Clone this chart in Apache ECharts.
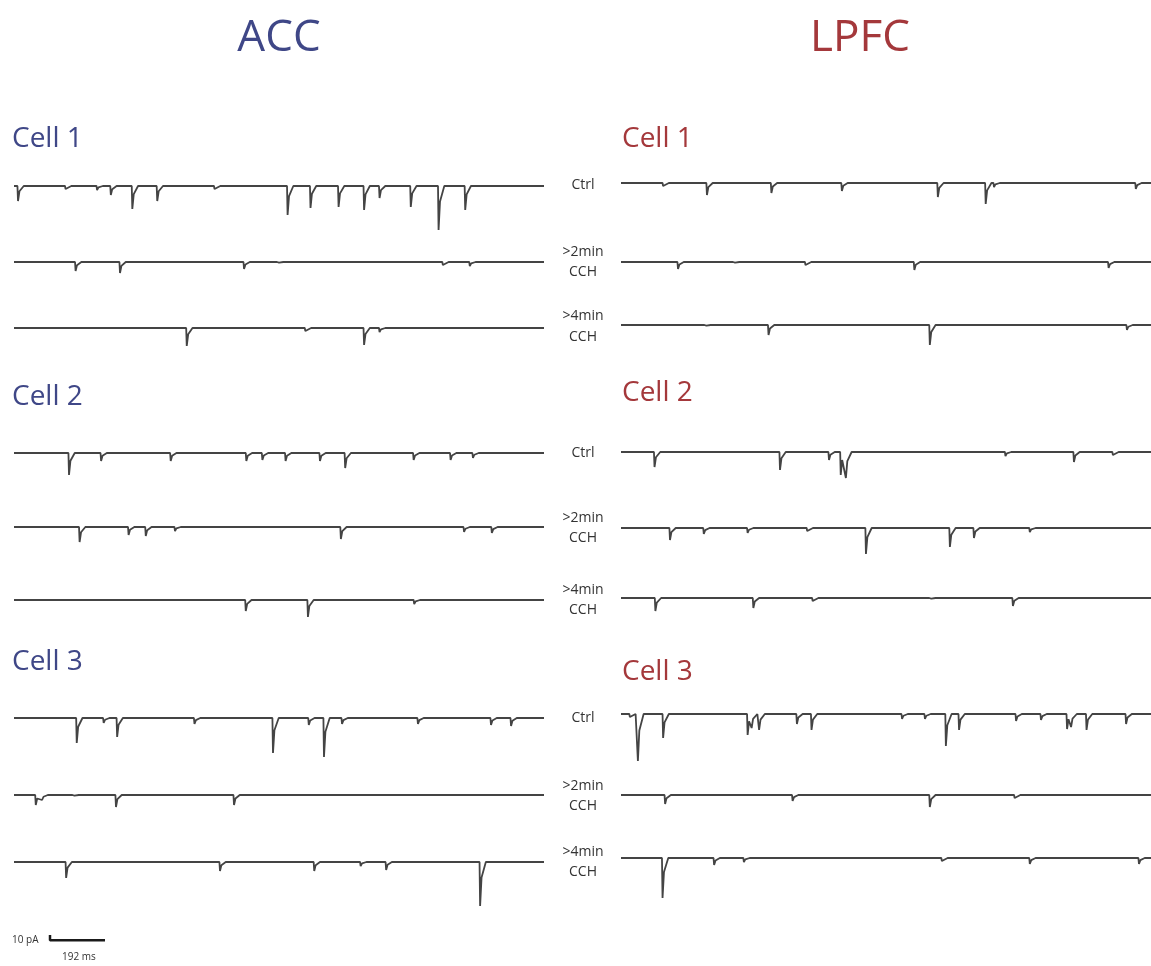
<!DOCTYPE html>
<html>
<head>
<meta charset="utf-8">
<script src="https://cdn.jsdelivr.net/npm/echarts@6/dist/echarts.min.js"></script>
<style>
html, body { margin: 0; padding: 0; background: #fff; }
#main { width: 1151px; height: 966px; }
</style>
</head>
<body>
<div id="main"></div>
<script>
// synaptic events: [time (ms), amplitude (pA, inward = down)]
var acc1Ctrl = [[14, 15], [180, 3], [290, 4], [338, 9], [413, 23], [500, 15], [700, 3], [955, 29], [1035, 22], [1133, 21], [1222, 24], [1276, 12], [1385, 21], [1482, 44], [1575, 24]];
var acc1Cch2 = [[215, 9], [370, 11], [803, 7], [920, 2], [1497, 3], [1591, 4]];
var acc1Cch4 = [[603, 18], [1017, 3], [1222, 17], [1276, 4]];
var acc2Ctrl = [[192, 22], [304, 8], [547, 8], [811, 8], [867, 7], [948, 8], [1068, 8], [1156, 15], [1395, 7], [1524, 7], [1602, 5]];
var acc2Cch2 = [[229, 15], [400, 8], [460, 9], [562, 4], [1141, 12], [1571, 5], [1668, 6]];
var acc2Cch4 = [[809, 11], [1026, 17], [1397, 4]];
var acc3Ctrl = [[219, 25], [313, 5], [360, 19], [630, 6], [904, 35], [1029, 7], [1082, 39], [1145, 6], [1410, 6], [1665, 7], [1735, 8]];
var acc3Cch2 = [[76, 10], [98, 5], [206, 2], [356, 12], [768, 10]];
var acc3Cch4 = [[182, 16], [719, 9], [1048, 9], [1210, 4], [1299, 8], [1627, 44]];

var lpfc1Ctrl = [[147, 3], [300, 12], [525, 10], [771, 8], [1106, 14], [1273, 21], [1302, 4], [1797, 6]];
var lpfc1Cch2 = [[199, 7], [393, 2], [644, 3], [1024, 8], [1702, 6]];
var lpfc1Cch4 = [[293, 2], [515, 10], [1078, 20], [1766, 5]];
var lpfc2Ctrl = [[117, 15], [555, 18], [726, 8], [767, 23], [785, 26], [1342, 4], [1581, 10], [1717, 3]];
var lpfc2Cch2 = [[171, 12], [289, 6], [442, 5], [650, 3], [855, 26], [1148, 19], [1232, 10], [1427, 4]];
var lpfc2Cch4 = [[120, 13], [462, 10], [669, 3], [1078, 2], [1368, 8]];
var lpfc3Ctrl = [[31, 3], [59, 47], [147, 24], [442, 21], [456, 14], [482, 16], [614, 10], [665, 16], [981, 5], [1061, 5], [1134, 32], [1180, 16], [1379, 7], [1466, 6], [1557, 15], [1571, 13], [1625, 16], [1763, 10]];
var lpfc3Cch2 = [[154, 9], [599, 6], [1078, 12], [1374, 3]];
var lpfc3Cch4 = [[145, 40], [325, 7], [429, 4], [1120, 3], [1427, 6], [1808, 6]];

var traceMs = 1850;
var scaleBar = [[0, 10], [0, 0], [192, 0]]; // 10 pA / 192 ms

var accTraces = [acc1Ctrl, acc1Cch2, acc1Cch4, acc2Ctrl, acc2Cch2, acc2Cch4, acc3Ctrl, acc3Cch2, acc3Cch4];
var lpfcTraces = [lpfc1Ctrl, lpfc1Cch2, lpfc1Cch4, lpfc2Ctrl, lpfc2Cch2, lpfc2Cch4, lpfc3Ctrl, lpfc3Cch2, lpfc3Cch4];

// layout (page px)
var accLeft = 14, lpfcLeft = 621, traceW = 530;
var accY = [186, 262, 328, 453, 527, 600, 718, 795, 862];
var lpfcY = [183, 262, 325, 452, 528, 598, 714, 795, 858];

var accColor = '#3f4787';
var lpfcColor = '#a4383b';
var font = '"Open Sans", "Noto Sans", sans-serif';

// turn an event list into a current trace
function buildTrace(events) {
	var pts = [[0, 0]];
	for (var i = 0; i < events.length; i++) {
		var t = events[i][0], a = events[i][1];
		var prev = i > 0 ? events[i - 1][0] : -100;
		var next = i < events.length - 1 ? events[i + 1][0] : 99999;
		if (t - prev > 24) pts.push([t - 2, 0]);
		pts.push([t, -a]);
		pts.push([t + 5, -a * 0.35]);
		if (next - t > 24) pts.push([t + 20, 0]);
	}
	pts.push([traceMs, 0]);
	return pts;
}

var grids = [], xAxes = [], yAxes = [], series = [];
function addPanel(left, baseY, data, color, width) {
	var idx = grids.length;
	grids.push({ left: left, top: baseY - 12, width: traceW, height: 62 });
	xAxes.push({ type: 'value', gridIndex: idx, min: 0, max: traceMs, show: false });
	yAxes.push({ type: 'value', gridIndex: idx, min: -50, max: 12, show: false });
	series.push({
		type: 'line',
		xAxisIndex: idx,
		yAxisIndex: idx,
		data: data,
		showSymbol: false,
		silent: true,
		lineStyle: { color: color, width: width }
	});
}

for (var i = 0; i < 9; i++) {
	addPanel(accLeft, accY[i], buildTrace(accTraces[i]), '#444', 1.8);
	addPanel(lpfcLeft, lpfcY[i], buildTrace(lpfcTraces[i]), '#444', 1.8);
}
addPanel(50, 946, scaleBar, '#1a1a1a', 2.5);

function txt(s, x, y, size, color, align, weight) {
	return {
		type: 'text',
		x: x,
		y: y,
		silent: true,
		style: {
			text: s,
			fill: color,
			font: (weight || 'normal') + ' ' + size + 'px ' + font,
			align: align || 'left',
			verticalAlign: 'middle'
		}
	};
}

var graphics = [
	txt('ACC', 279, 38, 44, accColor, 'center', 500),
	txt('LPFC', 860, 38, 44, lpfcColor, 'center', 500),
	txt('Cell 1', 12, 139, 28, accColor, 'left', 500),
	txt('Cell 2', 12, 397, 28, accColor, 'left', 500),
	txt('Cell 3', 12, 662, 28, accColor, 'left', 500),
	txt('Cell 1', 622, 139, 28, lpfcColor, 'left', 500),
	txt('Cell 2', 622, 393, 28, lpfcColor, 'left', 500),
	txt('Cell 3', 622, 672, 28, lpfcColor, 'left', 500),
	txt('10 pA', 12, 940, 10, '#333'),
	txt('192 ms', 62, 957, 10, '#333')
];
var condY = [[185, 252, 272, 316, 337], [453, 518, 538, 590, 610], [718, 786, 806, 852, 872]];
for (var c = 0; c < 3; c++) {
	graphics.push(txt('Ctrl', 583, condY[c][0], 14, '#333', 'center'));
	graphics.push(txt('>2min', 583, condY[c][1], 14, '#333', 'center'));
	graphics.push(txt('CCH', 583, condY[c][2], 14, '#333', 'center'));
	graphics.push(txt('>4min', 583, condY[c][3], 14, '#333', 'center'));
	graphics.push(txt('CCH', 583, condY[c][4], 14, '#333', 'center'));
}

var myChart = echarts.init(document.getElementById('main'));
myChart.setOption({
	backgroundColor: '#fff',
	animation: false,
	grid: grids,
	xAxis: xAxes,
	yAxis: yAxes,
	series: series,
	graphic: graphics
});
</script>
</body>
</html>
